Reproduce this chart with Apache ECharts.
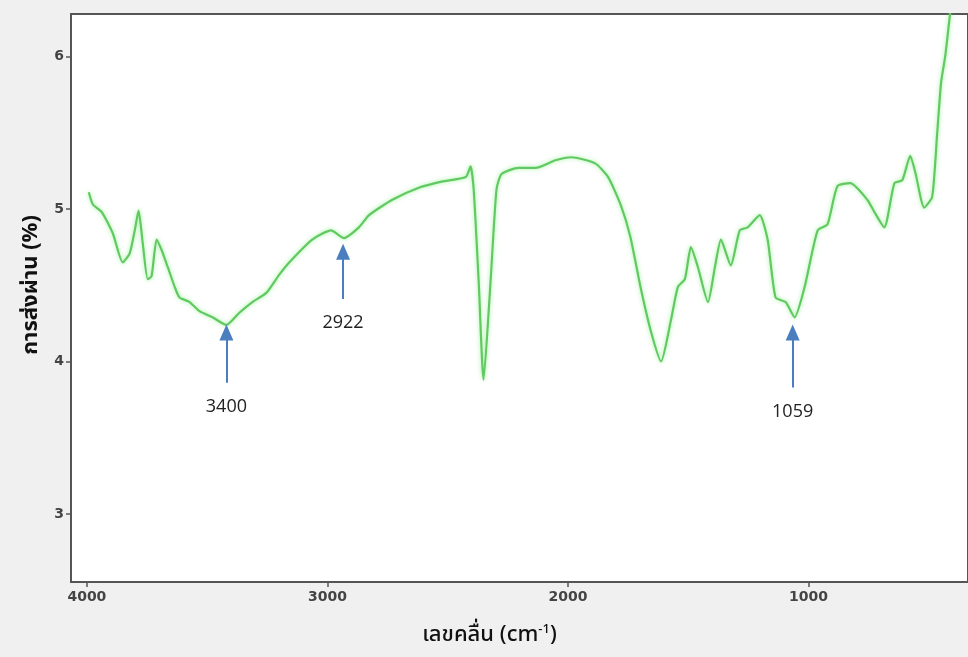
<!DOCTYPE html>
<html>
<head>
<meta charset="utf-8">
<script src="https://cdn.jsdelivr.net/npm/echarts@6/dist/echarts.min.js"></script>
<style>
  html, body { margin: 0; padding: 0; background: #f0f0f0; }
  #mychart { width: 968px; height: 657px; }
</style>
</head>
<body>
<div id="mychart"></div>
<script>
// wavenumber (cm-1), high to low
var waveNumbers = [3992, 3975, 3938, 3892, 3851, 3822, 3801, 3785, 3768, 3747, 3731, 3710, 3689, 3664, 3635, 3615, 3573, 3532, 3478, 3420,
  3366, 3312, 3254, 3200, 3159, 3063, 2985, 2931, 2869, 2827, 2732, 2620, 2525, 2425, 2405, 2392, 2371, 2351, 2322, 2297,
  2276, 2206, 2135, 2052, 1986, 1887, 1833, 1779, 1741, 1696, 1654, 1613, 1572, 1543, 1514, 1489, 1460, 1418, 1389, 1364,
  1323, 1286, 1253, 1203, 1170, 1137, 1095, 1058, 1016, 962, 921, 880, 826, 755, 726, 685, 643, 610, 577, 556,
  519, 486, 465, 449, 432, 411];
// transmittance (%)
var transmit = [5.11, 5.03, 4.98, 4.84, 4.65, 4.71, 4.86, 4.99, 4.78, 4.54, 4.56, 4.80, 4.73, 4.62, 4.49, 4.42, 4.39, 4.33, 4.29, 4.24,
  4.32, 4.39, 4.45, 4.57, 4.65, 4.80, 4.86, 4.81, 4.88, 4.96, 5.06, 5.14, 5.18, 5.21, 5.28, 5.13, 4.52, 3.88, 4.52, 5.13,
  5.23, 5.27, 5.27, 5.32, 5.34, 5.30, 5.21, 5.02, 4.82, 4.47, 4.19, 4.00, 4.27, 4.49, 4.54, 4.75, 4.62, 4.39, 4.62, 4.80,
  4.63, 4.86, 4.88, 4.96, 4.80, 4.42, 4.39, 4.29, 4.49, 4.86, 4.90, 5.15, 5.17, 5.06, 4.98, 4.88, 5.17, 5.19, 5.35, 5.24,
  5.01, 5.08, 5.50, 5.83, 6.00, 6.29];

var xTicks = [4000, 3000, 2000, 1000];
var yTicks = [3, 4, 5, 6];

// peak labels: [label, x, arrow tip y, arrow tail y]
var peakNames = ['3400', '2922', '1059'];
var peakX = [3420, 2935, 1066];
var peakTip = [4.19, 4.72, 4.19];
var peakTail = [3.86, 4.41, 3.83];

var thaiFont = "'Noto Sans Thai', 'Leelawadee UI', Tahoma, 'Noto Sans', sans-serif";

var pts = [];
for (var i = 0; i < waveNumbers.length; i++) {
  pts.push([waveNumbers[i], transmit[i]]);
}

var arrows = [];
for (var j = 0; j < peakNames.length; j++) {
  arrows.push([
    { coord: [peakX[j], peakTail[j]], name: peakNames[j] },
    { coord: [peakX[j], peakTip[j]] }
  ]);
}

var myChart = echarts.init(document.getElementById('mychart'));
var option = {
  backgroundColor: '#f0f0f0',
  animation: false,
  grid: {
    left: 71,
    top: 14,
    right: -3,
    bottom: 75,
    show: true,
    backgroundColor: '#ffffff',
    borderColor: '#555555',
    borderWidth: 2
  },
  xAxis: {
    type: 'value',
    inverse: true,
    min: 337,
    max: 4066,
    name: '{a|เลขคลื่น (cm}{s|-1}{a|)}',
    nameLocation: 'middle',
    nameGap: 42,
    nameTextStyle: {
      padding: [0, 60, 0, 0],
      rich: {
        a: { fontSize: 22, color: '#111', fontFamily: thaiFont, fontWeight: 500 },
        s: { fontSize: 13, color: '#111', fontFamily: thaiFont, fontWeight: 500, verticalAlign: 'top', padding: [0, 0, 12, 0] }
      }
    },
    axisLine: { show: true, lineStyle: { color: '#555555', width: 2 } },
    axisTick: { show: true, length: 5, customValues: xTicks, lineStyle: { color: '#555', width: 1.5 } },
    axisLabel: {
      customValues: xTicks, color: '#444', fontSize: 14, fontWeight: 'bold', margin: 8, fontFamily: 'DejaVu Sans',
      formatter: function (v) { return String(v); }
    },
    splitLine: { show: false }
  },
  yAxis: {
    type: 'value',
    min: 2.553,
    max: 6.28,
    name: 'การส่งผ่าน (%)',
    nameLocation: 'middle',
    nameGap: 22,
    nameTextStyle: { fontSize: 22, color: '#111', fontWeight: 'bold', fontFamily: thaiFont, padding: [0, 0, 0, 26] },
    axisLine: { show: true, lineStyle: { color: '#555555', width: 2 } },
    axisTick: { show: true, length: 5, customValues: yTicks, lineStyle: { color: '#555', width: 1.5 } },
    axisLabel: { customValues: yTicks, color: '#444', fontSize: 14, fontWeight: 'bold', margin: 7, fontFamily: 'DejaVu Sans' },
    splitLine: { show: false }
  },
  series: [
    {
      type: 'line',
      data: pts,
      showSymbol: false,
      smooth: 0.2,
      clip: true,
      lineStyle: {
        color: '#62c962',
        width: 2.2,
        shadowColor: 'rgba(110, 235, 110, 0.7)',
        shadowBlur: 4
      },
      markLine: {
        silent: true,
        symbol: ['none', 'triangle'],
        symbolSize: [14, 16],
        lineStyle: { color: '#4a7ebf', width: 2, type: 'solid' },
        label: {
          show: true,
          position: 'start',
          formatter: '{b}',
          distance: 15,
          color: '#222',
          fontSize: 18,
          fontFamily: "'Open Sans', 'Noto Sans', sans-serif"
        },
        data: arrows
      }
    }
  ]
};
myChart.setOption(option);
</script>
</body>
</html>
